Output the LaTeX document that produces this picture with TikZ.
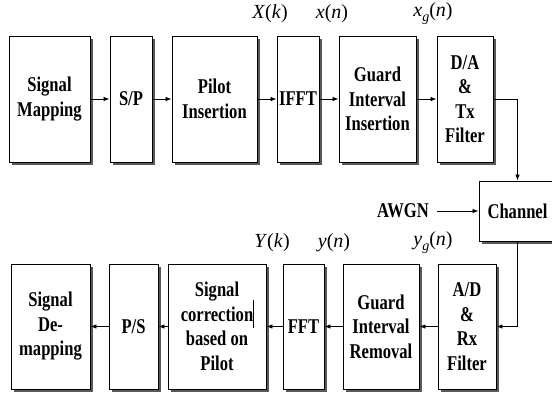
\documentclass[tikz,border=0pt]{standalone}
\usepackage{fontspec}
\setmainfont{Liberation Serif}[FakeStretch=0.79]
\newfontfamily\lblfont{Liberation Serif}
\usetikzlibrary{shadows,arrows.meta}
\begin{document}
\begin{tikzpicture}[x=1pt,y=-1pt,
  box/.style={draw=black, line width=0.9pt, fill=white, inner sep=0pt, align=center,
    font=\bfseries\fontsize{21}{24.5}\selectfont,
    drop shadow={shadow xshift=2.5pt, shadow yshift=-2.5pt, fill=black!65, opacity=1}},
  lbl/.style={font=\lblfont\fontsize{20}{22}\selectfont, inner sep=0pt},
  plain/.style={font=\bfseries\fontsize{21}{24.5}\selectfont, inner sep=0pt},
  arr/.style={line width=0.8pt, -{Latex[length=6pt,width=4.5pt]}},
  ]
\useasboundingbox (0,0) rectangle (552,392);
% top row
\node[box, minimum width=81pt, minimum height=126pt] (sm) at (49.5,99) {Signal\\Mapping};
\node[box, minimum width=42pt, minimum height=126pt] (sp) at (131,99) {S/P};
\node[box, minimum width=85pt, minimum height=126pt] (pi) at (214.5,99) {Pilot\\Insertion};
\node[box, minimum width=42pt, minimum height=126pt] (ifft) at (298,99) {IFFT};
\node[box, minimum width=77pt, minimum height=126pt] (gii) at (377.5,99) {Guard\\Interval\\Insertion};
\node[box, minimum width=56pt, minimum height=126pt] (da) at (465,99) {D/A\\\&\\Tx\\Filter};
% channel
\node[box, minimum width=77pt, minimum height=60pt] (ch) at (517.5,211) {Channel};
\node[plain] (awgn) at (403,211) {AWGN};
% bottom row
\node[box, minimum width=79pt, minimum height=125pt] (sdm) at (50.5,326.5) {Signal\\De-\\mapping};
\node[box, minimum width=49pt, minimum height=125pt] (ps) at (133.5,326.5) {P/S};
\node[box, minimum width=98pt, minimum height=125pt] (sc) at (217,326.5) {Signal\\correction\smash{\rlap{\rule[-7pt]{0.8pt}{28pt}}}\\based on\\Pilot};
\node[box, minimum width=41pt, minimum height=125pt] (fft) at (303.5,326.5) {FFT};
\node[box, minimum width=76pt, minimum height=125pt] (gir) at (381,326.5) {Guard\\Interval\\Removal};
\node[box, minimum width=58pt, minimum height=125pt] (ad) at (467,326.5) {A/D\\\&\\Rx\\Filter};
% labels
\node[lbl] (Xk) at (270,14) {\textit{X}(\textit{k})};
\node[lbl] (xn) at (332,14) {\textit{x}(\textit{n})};
\node[lbl] (xgn) at (433,14) {\textit{x}\raisebox{-5pt}{\fontsize{14}{14}\selectfont\textit{g}}(\textit{n})};
\node[lbl] (Yk) at (272,243) {\textit{Y}(\textit{k})};
\node[lbl] (yn) at (334,243) {\textit{y}(\textit{n})};
\node[lbl] (ygn) at (433,243) {\textit{y}\raisebox{-5pt}{\fontsize{14}{14}\selectfont\textit{g}}(\textit{n})};
% connectors
\draw[arr] (sm) -- (sp);
\draw[arr] (sp) -- (pi);
\draw[arr] (pi) -- (ifft);
\draw[arr] (ifft) -- (gii);
\draw[arr] (gii) -- (da);
\draw[arr] (da.east) -| (ch.north);
\draw[arr] (awgn.east) ++(8pt,0) coordinate (aw) (aw) -- (ch.west);
\draw[arr] (ch.south) |- (ad.east);
\draw[arr] (ad) -- (gir);
\draw[arr] (gir) -- (fft);
\draw[arr] (fft) -- (sc);
\draw[arr] (sc) -- (ps);
\draw[arr] (ps) -- (sdm);
\end{tikzpicture}
\end{document}
